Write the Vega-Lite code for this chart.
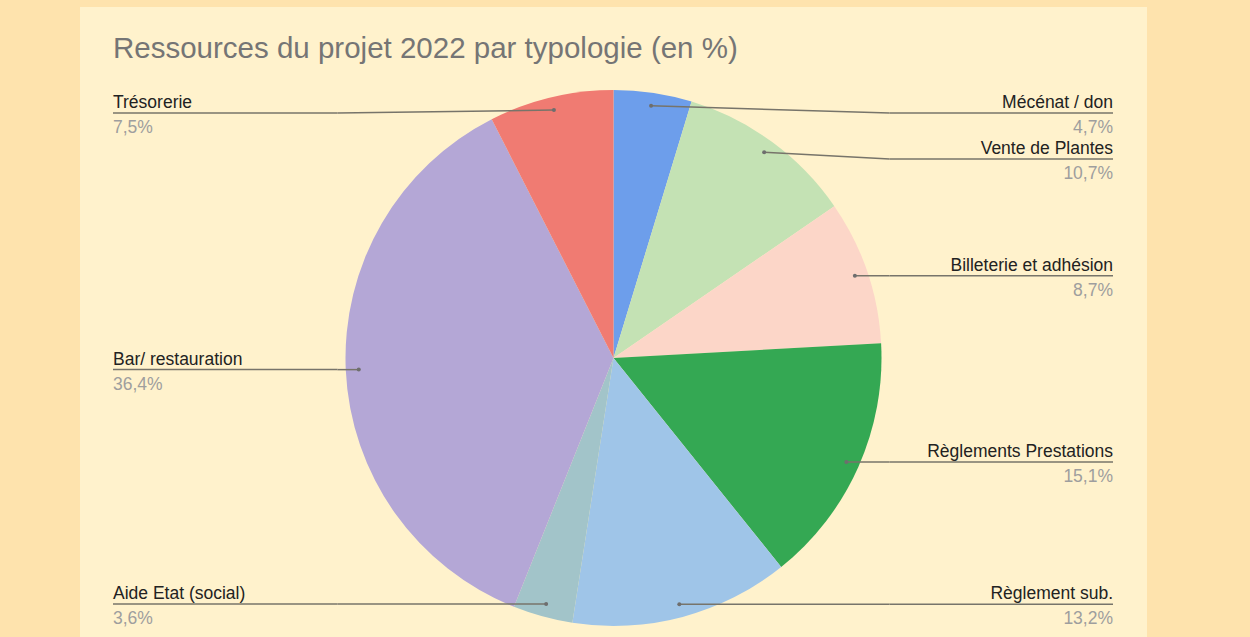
{
  "$schema": "https://vega.github.io/schema/vega-lite/v6.json",
  "width": 1067,
  "height": 630,
  "autosize": {"type": "none"},
  "padding": {"left": 80, "top": 7, "right": 103, "bottom": 0},
  "background": "#fee3ad",
  "config": {"view": {"fill": "#fff2cc", "stroke": null}, "font": "Liberation Sans"},
  "title": {
    "text": "Ressources du projet 2022 par typologie (en %)",
    "anchor": "start",
    "frame": "group",
    "orient": "top",
    "baseline": "alphabetic",
    "offset": -80,
    "dx": 33,
    "fontSize": 29.5,
    "fontWeight": "normal",
    "color": "#757575",
    "font": "Liberation Sans"
  },
  "data": {
    "values": [
      {"ordre": 1, "libelle": "Mécénat / don", "valeur": 4.7},
      {"ordre": 2, "libelle": "Vente de Plantes", "valeur": 10.7},
      {"ordre": 3, "libelle": "Billeterie et adhésion", "valeur": 8.7},
      {"ordre": 4, "libelle": "Règlements Prestations", "valeur": 15.1},
      {"ordre": 5, "libelle": "Règlement sub.", "valeur": 13.2},
      {"ordre": 6, "libelle": "Aide Etat (social)", "valeur": 3.6},
      {"ordre": 7, "libelle": "Bar/ restauration", "valeur": 36.4},
      {"ordre": 8, "libelle": "Trésorerie", "valeur": 7.5}
    ]
  },
  "transform": [
    {"joinaggregate": [{"op": "sum", "field": "valeur", "as": "total"}]},
    {"window": [{"op": "sum", "field": "valeur", "as": "cum"}], "sort": [{"field": "ordre", "order": "ascending"}], "frame": [null, 0]},
    {"calculate": "(datum.cum - datum.valeur / 2) / datum.total * 2 * PI", "as": "mid"},
    {"calculate": "sin(datum.mid) * 255", "as": "dx"},
    {"calculate": "cos(datum.mid) * 255", "as": "dy"},
    {"calculate": "datum.mid < PI ? 'droite' : 'gauche'", "as": "side"},
    {"calculate": "min(datum.dy, 245)", "as": "ly0"},
    {"calculate": "datum.mid < PI ? datum.mid : -datum.mid", "as": "key"},
    {"window": [{"op": "lag", "field": "ly0", "as": "prev"}], "groupby": ["side"], "sort": [{"field": "key", "order": "ascending"}]},
    {"calculate": "datum.prev == null ? datum.ly0 : min(datum.ly0, datum.prev - 46)", "as": "ly"},
    {"calculate": "datum.side == 'droite' ? 499.5 : -500.5", "as": "lx"},
    {"calculate": "datum.side == 'droite' ? 276 : -276", "as": "ex"},
    {"calculate": "replace(format(datum.valeur, '.1f'), '.', ',') + '%'", "as": "pct"}
  ],
  "layer": [
    {
      "mark": {"type": "arc", "outerRadius": 268},
      "encoding": {
        "theta": {"field": "valeur", "type": "quantitative", "stack": true},
        "order": {"field": "ordre", "type": "quantitative"},
        "color": {
          "field": "libelle",
          "type": "nominal",
          "legend": null,
          "scale": {
            "domain": ["Mécénat / don", "Vente de Plantes", "Billeterie et adhésion", "Règlements Prestations", "Règlement sub.", "Aide Etat (social)", "Bar/ restauration", "Trésorerie"],
            "range": ["#6d9eeb", "#c4e2b4", "#fcd6c8", "#34a853", "#9fc5e8", "#a2c4c9", "#b4a7d6", "#f07b72"]
          }
        },
        "x": {"datum": 0, "type": "quantitative", "scale": {"domain": [-533.5, 533.5], "nice": false, "zero": false}, "axis": null},
        "y": {"datum": 0, "type": "quantitative", "scale": {"domain": [-279, 351], "nice": false, "zero": false}, "axis": null}
      }
    },
    {
      "mark": {"type": "rule", "color": "#77746a", "strokeWidth": 1.5},
      "encoding": {
        "x": {"field": "dx", "type": "quantitative", "scale": {"domain": [-533.5, 533.5], "nice": false, "zero": false}, "axis": null},
        "x2": {"field": "ex"},
        "y": {"field": "dy", "type": "quantitative", "scale": {"domain": [-279, 351], "nice": false, "zero": false}, "axis": null},
        "y2": {"field": "ly"}
      }
    },
    {
      "mark": {"type": "rule", "color": "#77746a", "strokeWidth": 1.5},
      "encoding": {
        "x": {"field": "ex", "type": "quantitative", "scale": {"domain": [-533.5, 533.5], "nice": false, "zero": false}, "axis": null},
        "x2": {"field": "lx"},
        "y": {"field": "ly", "type": "quantitative", "scale": {"domain": [-279, 351], "nice": false, "zero": false}, "axis": null}
      }
    },
    {
      "mark": {"type": "circle", "size": 16, "color": "#6e6e6e", "opacity": 1},
      "encoding": {
        "x": {"field": "dx", "type": "quantitative", "scale": {"domain": [-533.5, 533.5], "nice": false, "zero": false}, "axis": null},
        "y": {"field": "dy", "type": "quantitative", "scale": {"domain": [-279, 351], "nice": false, "zero": false}, "axis": null}
      }
    },
    {
      "transform": [{"filter": "datum.side == 'droite'"}],
      "mark": {"type": "text", "align": "right", "baseline": "alphabetic", "dy": -5, "fontSize": 17.5, "color": "#222222"},
      "encoding": {
        "x": {"field": "lx", "type": "quantitative", "scale": {"domain": [-533.5, 533.5], "nice": false, "zero": false}, "axis": null},
        "y": {"field": "ly", "type": "quantitative", "scale": {"domain": [-279, 351], "nice": false, "zero": false}, "axis": null},
        "text": {"field": "libelle"}
      }
    },
    {
      "transform": [{"filter": "datum.side == 'droite'"}],
      "mark": {"type": "text", "align": "right", "baseline": "alphabetic", "dy": 20, "fontSize": 17.5, "color": "#9e9e9e"},
      "encoding": {
        "x": {"field": "lx", "type": "quantitative", "scale": {"domain": [-533.5, 533.5], "nice": false, "zero": false}, "axis": null},
        "y": {"field": "ly", "type": "quantitative", "scale": {"domain": [-279, 351], "nice": false, "zero": false}, "axis": null},
        "text": {"field": "pct"}
      }
    },
    {
      "transform": [{"filter": "datum.side == 'gauche'"}],
      "mark": {"type": "text", "align": "left", "baseline": "alphabetic", "dy": -5, "fontSize": 17.5, "color": "#222222"},
      "encoding": {
        "x": {"field": "lx", "type": "quantitative", "scale": {"domain": [-533.5, 533.5], "nice": false, "zero": false}, "axis": null},
        "y": {"field": "ly", "type": "quantitative", "scale": {"domain": [-279, 351], "nice": false, "zero": false}, "axis": null},
        "text": {"field": "libelle"}
      }
    },
    {
      "transform": [{"filter": "datum.side == 'gauche'"}],
      "mark": {"type": "text", "align": "left", "baseline": "alphabetic", "dy": 20, "fontSize": 17.5, "color": "#9e9e9e"},
      "encoding": {
        "x": {"field": "lx", "type": "quantitative", "scale": {"domain": [-533.5, 533.5], "nice": false, "zero": false}, "axis": null},
        "y": {"field": "ly", "type": "quantitative", "scale": {"domain": [-279, 351], "nice": false, "zero": false}, "axis": null},
        "text": {"field": "pct"}
      }
    }
  ]
}
